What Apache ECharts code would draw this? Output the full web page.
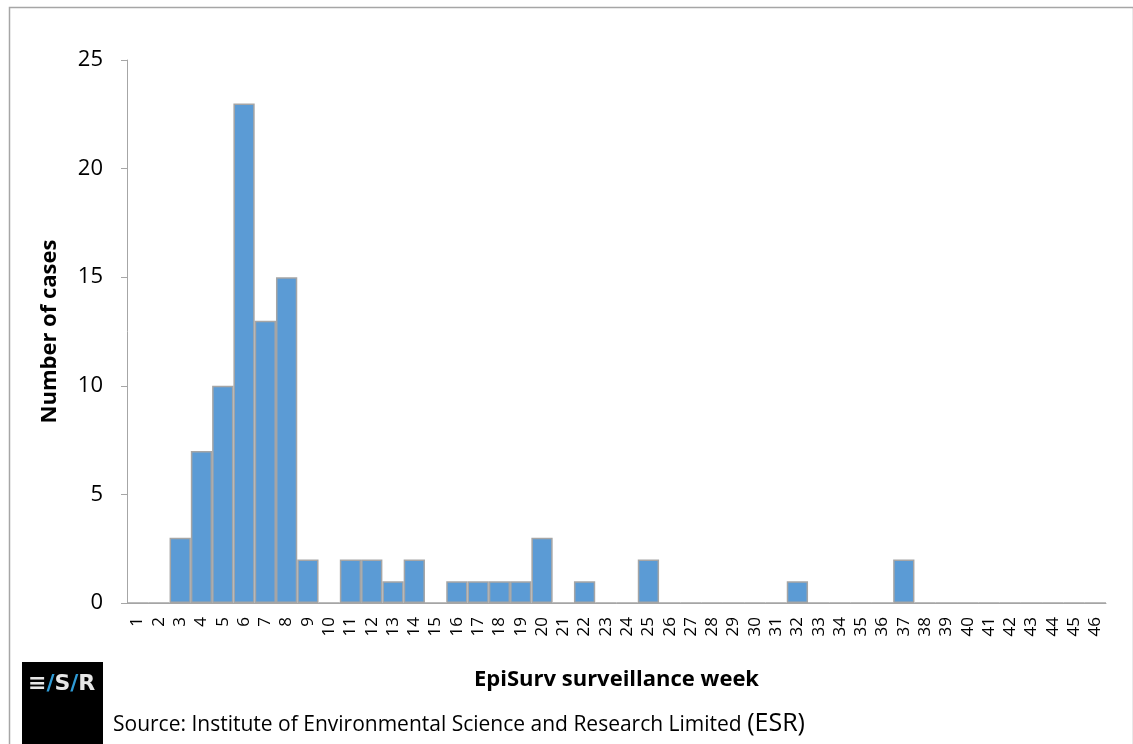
<!DOCTYPE html>
<html><head><meta charset="utf-8">
<script src="https://cdn.jsdelivr.net/npm/echarts@6/dist/echarts.min.js"></script>
<style>html,body{margin:0;padding:0;background:#fff}#c{width:1133px;height:744px}</style>
</head><body><div id="c"></div>
<script>
const weeks = ['1','2','3','4','5','6','7','8','9','10','11','12','13','14','15','16','17','18','19','20','21','22','23','24','25','26','27','28','29','30','31','32','33','34','35','36','37','38','39','40','41','42','43','44','45','46'];
const cases = [0,0,3,7,10,23,13,15,2,0,2,2,1,2,0,1,1,1,1,3,0,1,0,0,2,0,0,0,0,0,0,1,0,0,0,0,2,0,0,0,0,0,0,0,0,0];
const yTicks = [0,5,10,15,20,25];
const xTitle = 'EpiSurv surveillance week';
const yTitle = 'Number of cases';
const sourceText = 'Source: Institute of Environmental Science and Research Limited ';

const chart = echarts.init(document.getElementById('c'));
chart.setOption({
  animation: false,
  textStyle: { fontFamily: 'Open Sans' },
  grid: { left: 127, right: 27, top: 60, bottom: 141 },
  xAxis: {
    type: 'category', data: weeks,
    axisLine: { lineStyle: { color: '#a6a6a6', width: 1 } },
    axisTick: { alignWithLabel: false, length: 6, lineStyle: { color: '#a6a6a6' } },
    axisLabel: { rotate: 90, color: '#000', fontSize: 17, margin: 14, interval: 0, fontFamily: 'Open Sans' },
    name: xTitle, nameLocation: 'middle', nameGap: 66,
    nameTextStyle: { fontSize: 22, fontWeight: 'bold', color: '#000', fontFamily: 'Open Sans' }
  },
  yAxis: {
    type: 'value', min: 0, max: 25, interval: 5,
    axisLine: { show: true, lineStyle: { color: '#a6a6a6' } },
    axisTick: { show: true, length: 6, lineStyle: { color: '#a6a6a6' } },
    splitLine: { show: false },
    axisLabel: { color: '#000', fontSize: 22, margin: 24, fontFamily: 'Open Sans',
      formatter: v => yTicks.includes(v) ? String(v) : '' },
    name: yTitle, nameLocation: 'middle', nameGap: 66,
    nameTextStyle: { fontSize: 22, fontWeight: 'bold', color: '#000', fontFamily: 'Open Sans' }
  },
  series: [{
    type: 'bar', data: cases, barCategoryGap: '0%',
    itemStyle: { color: '#5b9bd5', borderColor: '#a5a5a5', borderWidth: 1.5 }
  }],
  graphic: [
    { type: 'rect', left: 7, top: 5, shape: { width: 1124, height: 760 }, style: { fill: 'none', stroke: '#a6a6a6', lineWidth: 1.5 }, silent: true },
    { type: 'rect', left: 22, top: 662, shape: { width: 81, height: 90 }, style: { fill: '#000' } },
    { type: 'text', left: 28, top: 673, style: {
        text: '{w|≡}{b|/}{w|S}{b|/}{w|R}',
        rich: {
          w: { fill: '#e6e6e6', fontSize: 22, fontWeight: 'bold', fontFamily: 'DejaVu Sans' },
          b: { fill: '#2e9bd6', fontSize: 22, fontWeight: 'bold', fontFamily: 'DejaVu Sans' }
        } } },
    { type: 'text', left: 113, top: 711, style: {
        text: '{a|' + sourceText + '}{b|(ESR)}',
        rich: {
          a: { fill: '#000', fontSize: 21, fontFamily: 'Open Sans', verticalAlign: 'bottom' },
          b: { fill: '#000', fontSize: 25, fontFamily: 'Open Sans', verticalAlign: 'bottom' }
        } } }
  ]
});
</script></body></html>
